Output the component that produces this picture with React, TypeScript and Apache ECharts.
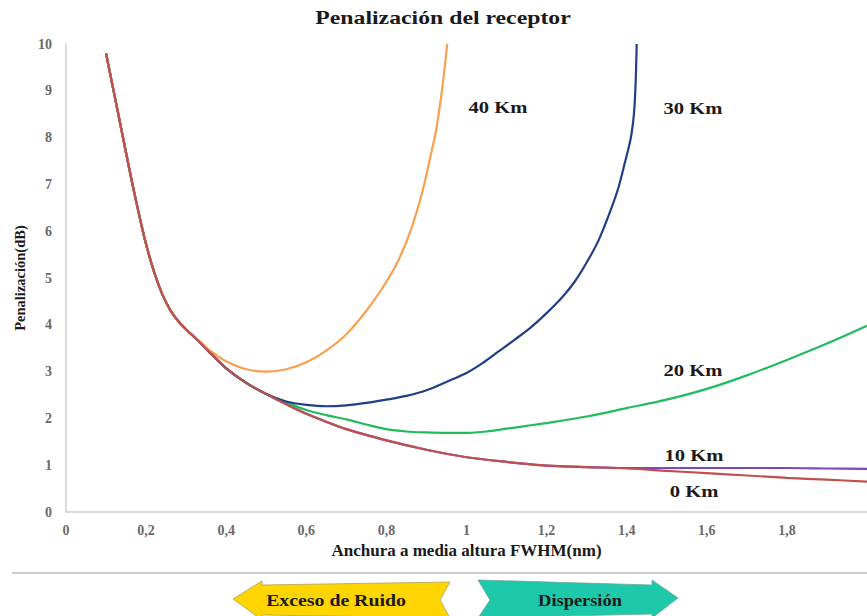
import React, { useEffect, useRef } from "react";
import * as echarts from "echarts";

const TITLE = "Penalización del receptor";
const X_NAME = "Anchura a media altura FWHM(nm)";
const Y_NAME = "Penalización(dB)";

const SERIES_NAMES = ["0 Km", "10 Km", "20 Km", "30 Km", "40 Km"];

const km0X = [0.1, 0.12, 0.14, 0.16, 0.18, 0.2, 0.22, 0.24, 0.26, 0.28, 0.3, 0.33, 0.36, 0.4, 0.45, 0.5, 0.55, 0.6, 0.7, 0.8, 0.9, 1.0, 1.1, 1.2, 1.3, 1.4, 1.5, 1.6, 1.7, 1.8, 1.9, 2.0];
const km0Y = [9.8, 8.95, 8.1, 7.25, 6.45, 5.72, 5.13, 4.66, 4.32, 4.08, 3.9, 3.66, 3.4, 3.07, 2.76, 2.52, 2.3, 2.1, 1.77, 1.53, 1.33, 1.17, 1.07, 0.99, 0.96, 0.93, 0.88, 0.83, 0.78, 0.73, 0.69, 0.65];

const km10X = [0.1, 0.12, 0.14, 0.16, 0.18, 0.2, 0.22, 0.24, 0.26, 0.28, 0.3, 0.33, 0.36, 0.4, 0.45, 0.5, 0.55, 0.6, 0.7, 0.8, 0.9, 1.0, 1.1, 1.2, 1.3, 1.4, 1.5, 1.6, 1.7, 1.8, 1.9, 2.0];
const km10Y = [9.8, 8.95, 8.1, 7.25, 6.45, 5.72, 5.13, 4.66, 4.32, 4.08, 3.9, 3.66, 3.4, 3.07, 2.76, 2.52, 2.3, 2.1, 1.77, 1.53, 1.33, 1.17, 1.07, 0.99, 0.96, 0.94, 0.94, 0.94, 0.94, 0.94, 0.93, 0.92];

const km20X = [0.1, 0.12, 0.14, 0.16, 0.18, 0.2, 0.22, 0.24, 0.26, 0.28, 0.3, 0.33, 0.36, 0.4, 0.45, 0.5, 0.55, 0.6, 0.65, 0.7, 0.75, 0.8, 0.85, 0.9, 0.95, 1.0, 1.05, 1.1, 1.15, 1.2, 1.3, 1.4, 1.5, 1.6, 1.7, 1.8, 1.9, 2.0];
const km20Y = [9.8, 8.95, 8.1, 7.25, 6.45, 5.72, 5.13, 4.66, 4.32, 4.08, 3.9, 3.66, 3.4, 3.07, 2.76, 2.52, 2.34, 2.18, 2.07, 1.98, 1.87, 1.77, 1.72, 1.7, 1.69, 1.69, 1.72, 1.78, 1.84, 1.9, 2.04, 2.22, 2.4, 2.63, 2.92, 3.25, 3.6, 3.98];

const km30X = [0.1, 0.12, 0.14, 0.16, 0.18, 0.2, 0.22, 0.24, 0.26, 0.28, 0.3, 0.33, 0.36, 0.4, 0.45, 0.5, 0.55, 0.6, 0.65, 0.7, 0.75, 0.8, 0.85, 0.9, 0.95, 1.0, 1.04, 1.08, 1.12, 1.16, 1.2, 1.24, 1.27, 1.3, 1.33, 1.36, 1.38, 1.395, 1.41, 1.418, 1.422, 1.425];
const km30Y = [9.8, 8.95, 8.1, 7.25, 6.45, 5.72, 5.13, 4.66, 4.32, 4.08, 3.9, 3.66, 3.4, 3.07, 2.76, 2.52, 2.36, 2.29, 2.26, 2.28, 2.33, 2.4, 2.48, 2.6, 2.78, 2.97, 3.18, 3.43, 3.68, 3.94, 4.25, 4.6, 4.92, 5.33, 5.81, 6.45, 6.95, 7.45, 7.98, 8.5, 9.1, 10];

const km40X = [0.1, 0.12, 0.14, 0.16, 0.18, 0.2, 0.22, 0.24, 0.26, 0.28, 0.3, 0.33, 0.36, 0.4, 0.45, 0.5, 0.55, 0.6, 0.65, 0.7, 0.75, 0.8, 0.83, 0.86, 0.89, 0.91, 0.925, 0.94, 0.952];
const km40Y = [9.8, 8.95, 8.1, 7.25, 6.45, 5.72, 5.13, 4.66, 4.32, 4.08, 3.9, 3.68, 3.45, 3.22, 3.05, 3.0, 3.05, 3.2, 3.45, 3.8, 4.3, 4.92, 5.38, 6.0, 6.85, 7.6, 8.2, 9.1, 10];

const ARROW_LEFT_TEXT = "Exceso de Ruido";
const ARROW_RIGHT_TEXT = "Dispersión";

const pairs = (xs: number[], ys: number[]) => xs.map((x, i) => [x, ys[i]]);

const SERIF = '"Liberation Serif", "Times New Roman", serif';

export default function App() {
  const ref = useRef<HTMLDivElement>(null);
  useEffect(() => {
    if (!ref.current) return;
    const chart = echarts.init(ref.current, null, { renderer: "svg" });
    const fmt = (v: number) => String(+v.toFixed(1)).replace(".", ",");
    const mk = (name: string, xs: number[], ys: number[], color: string, z: number) => ({
      name,
      type: "line",
      data: pairs(xs, ys),
      smooth: 0.3,
      showSymbol: false,
      symbol: "none",
      z,
      lineStyle: { color, width: 2.2 },
      itemStyle: { color },
    });
    const label = (text: string, x: number, y: number, size = 16.5, sx = 1.25) => ({
      type: "text",
      x,
      y,
      scaleX: sx,
      style: {
        text,
        fill: "#1a1a1a",
        font: `bold ${size}px ${SERIF}`,
        align: "center",
        verticalAlign: "middle",
      },
    });
    chart.setOption({
      animation: false,
      backgroundColor: "#ffffff",
      grid: { left: 66, right: -2, top: 44, bottom: 104, containLabel: false },
      xAxis: {
        type: "value",
        min: 0,
        max: 2,
        interval: 0.2,
        name: X_NAME,
        nameLocation: "middle",
        nameGap: 37,
        nameTextStyle: { fontFamily: SERIF, fontWeight: "bold", fontSize: 17, color: "#1a1a1a", verticalAlign: "middle" },
        axisLine: { show: true, lineStyle: { color: "#d0d0d0", width: 1.5 } },
        axisTick: { show: false },
        splitLine: { show: false },
        axisLabel: {
          formatter: fmt,
          showMaxLabel: false,
          margin: 11,
          fontFamily: SERIF,
          fontWeight: "bold",
          fontSize: 14,
          color: "#6a6a6a",
        },
      },
      yAxis: {
        type: "value",
        min: 0,
        max: 10,
        interval: 1,
        name: Y_NAME,
        nameLocation: "middle",
        nameGap: 44,
        nameRotate: 90,
        nameTextStyle: { fontFamily: SERIF, fontWeight: "bold", fontSize: 14.5, color: "#1a1a1a", verticalAlign: "middle" },
        axisLine: { show: true, lineStyle: { color: "#d0d0d0", width: 1.5 } },
        axisTick: { show: false },
        splitLine: { show: false },
        axisLabel: {
          margin: 14,
          fontFamily: SERIF,
          fontWeight: "bold",
          fontSize: 14,
          color: "#6a6a6a",
        },
      },
      series: [
        mk(SERIES_NAMES[1], km10X, km10Y, "#8046c0", 1),
        mk(SERIES_NAMES[2], km20X, km20Y, "#22bb5c", 2),
        mk(SERIES_NAMES[3], km30X, km30Y, "#213f86", 3),
        mk(SERIES_NAMES[4], km40X, km40Y, "#f9a050", 4),
        mk(SERIES_NAMES[0], km0X, km0Y, "#c0504d", 5),
      ],
      graphic: [
        label(TITLE, 443, 18, 19),
        label(SERIES_NAMES[4], 498, 107),
        label(SERIES_NAMES[3], 693, 108),
        label(SERIES_NAMES[2], 693, 370),
        label(SERIES_NAMES[1], 694, 455),
        label(SERIES_NAMES[0], 694, 491),
        {
          type: "line",
          shape: { x1: 12, y1: 573, x2: 867, y2: 573 },
          style: { stroke: "#b8b8b8", lineWidth: 1.5 },
        },
        {
          type: "polygon",
          shape: {
            points: [
              [233, 599], [262, 581], [262, 585], [450, 582], [440, 600],
              [450, 618], [262, 615], [262, 620],
            ],
          },
          style: { fill: "#ffd500", stroke: "#b0a060", lineWidth: 0.8 },
        },
        {
          type: "polygon",
          shape: {
            points: [
              [478, 580], [652, 585], [652, 580], [678, 598], [652, 618],
              [652, 614], [478, 618], [490, 600],
            ],
          },
          style: { fill: "#1ec8aa", stroke: "#6aa898", lineWidth: 0.8 },
        },
        label(ARROW_LEFT_TEXT, 336, 601, 16.5, 1.2),
        label(ARROW_RIGHT_TEXT, 580, 601, 16, 1.15),
      ],
    });
    return () => chart.dispose();
  }, []);
  return (
    <div
      ref={ref}
      style={{ position: "fixed", left: 0, top: 0, width: 867, height: 616 }}
    />
  );
}
